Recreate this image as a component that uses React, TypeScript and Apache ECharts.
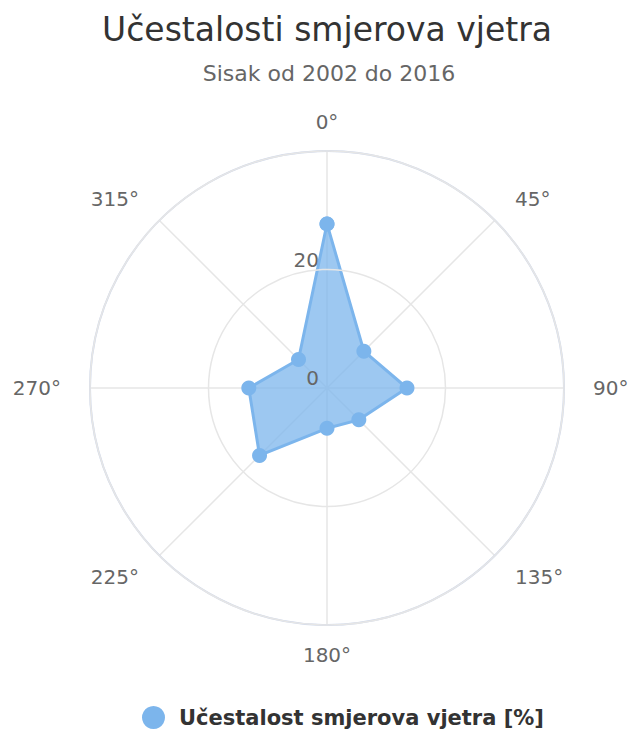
import React, { useEffect, useRef } from "react";
import * as echarts from "echarts";

const directions = [0, 45, 90, 135, 180, 225, 270, 315];
const frequencies = [27.7, 8.8, 13.5, 7.6, 6.8, 16.1, 13.2, 6.8];
const radiusTicks = [0, 20, 40];
const titleText = "Učestalosti smjerova vjetra";
const subtitleText = "Sisak od 2002 do 2016";
const seriesName = "Učestalost smjerova vjetra [%]";

const FONT = "'DejaVu Sans', Verdana, sans-serif";

export default function App() {
  const ref = useRef<HTMLDivElement>(null);
  useEffect(() => {
    document.body.style.margin = "0";
    const chart = echarts.init(ref.current!, null, { renderer: "svg" });
    const data = directions.map((d, i) => [frequencies[i], d]);
    data.push([frequencies[0], 360]);
    chart.setOption({
      animation: false,
      backgroundColor: "#ffffff",
      title: [
        {
          text: titleText,
          left: 322,
          top: 8,
          textAlign: "center",
          textStyle: { fontFamily: FONT, fontSize: 33, fontWeight: "normal", color: "#333333" },
        },
        {
          text: subtitleText,
          left: 324,
          top: 57,
          textAlign: "center",
          textStyle: { fontFamily: FONT, fontSize: 22, fontWeight: "normal", color: "#666666" },
        },
      ],
      legend: {
        top: 701,
        left: 137,
        icon: "circle",
        itemWidth: 23,
        itemHeight: 23,
        itemGap: 10,
        textStyle: {
          fontFamily: FONT,
          fontSize: 21,
          fontWeight: "bold",
          color: "#333333",
          padding: [0, 0, 0, 9],
        },
        data: [seriesName],
      },
      polar: { center: [327, 388], radius: 237 },
      angleAxis: {
        type: "value",
        min: 0,
        max: 360,
        interval: 45,
        startAngle: 90,
        clockwise: true,
        axisLine: { show: true, lineStyle: { color: "#ccd6eb", width: 2 } },
        axisTick: { show: false },
        axisLabel: {
          margin: 29,
          lineHeight: 1,
          fontFamily: FONT,
          fontSize: 20,
          color: "#666666",
          formatter: (v: number) => (v >= 360 ? "" : v + "°"),
        },
        splitLine: { show: true, lineStyle: { color: "#e6e6e6", width: 1.5 } },
      },
      radiusAxis: {
        type: "value",
        min: radiusTicks[0],
        max: radiusTicks[radiusTicks.length - 1],
        interval: radiusTicks[1] - radiusTicks[0],
        axisLine: { show: false },
        axisTick: { show: false },
        axisLabel: {
          showMaxLabel: false,
          fontFamily: FONT,
          fontSize: 20,
          color: "#666666",
          margin: 8,
          align: "right",
          verticalAlign: "bottom",
        },
        splitLine: { show: true, lineStyle: { color: "#e6e6e6", width: 1.5 } },
        z: 5,
      },
      series: [
        {
          name: seriesName,
          type: "line",
          coordinateSystem: "polar",
          data,
          symbol: "circle",
          symbolSize: 15,
          lineStyle: { color: "#7cb5ec", width: 3 },
          itemStyle: { color: "#7cb5ec" },
          areaStyle: { color: "#7cb5ec", opacity: 0.75 },
          z: 3,
        },
      ],
    });
    return () => chart.dispose();
  }, []);
  return <div ref={ref} style={{ width: 631, height: 732 }} />;
}
